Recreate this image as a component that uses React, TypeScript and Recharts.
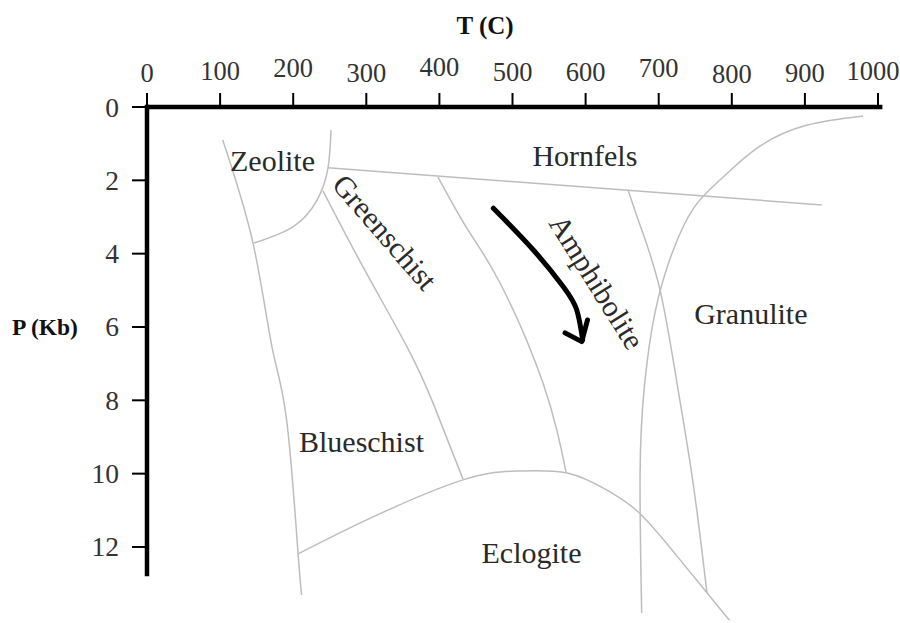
import React from 'react';
import { ComposedChart, Line, Scatter, XAxis, YAxis, ReferenceLine } from 'recharts';

// ---- axis ticks ----
const tempTicks = [0, 100, 200, 300, 400, 500, 600, 700, 800, 900, 1000];
const pressureTicks = [0, 2, 4, 6, 8, 10, 12];

// ---- facies boundaries (T in °C, P in kb) ----
const zeoliteLeftLine = [
  { t: 103.6, p: 0.9 },
  { t: 145, p: 3.71 },
  { t: 171, p: 6.55 },
  { t: 191, p: 8.54 },
  { t: 206.6, p: 12.16 },
  { t: 211.6, p: 13.31 },
];
const zeoliteArc = [
  { t: 251.7, p: 0.63 },
  { t: 247.6, p: 1.66 },
  { t: 232.6, p: 2.54 },
  { t: 199.7, p: 3.27 },
  { t: 146.4, p: 3.71 },
];
const hornfelsLine = [
  { t: 247.6, p: 1.66 },
  { t: 923, p: 2.67 },
];
const greenschistBlueschistLine = [
  { t: 240.8, p: 2.29 },
  { t: 295.5, p: 4.36 },
  { t: 355.7, p: 6.54 },
  { t: 391.2, p: 8.07 },
  { t: 432.3, p: 10.15 },
];
const greenschistAmphiboliteLine = [
  { t: 398.1, p: 1.91 },
  { t: 439, p: 3.35 },
  { t: 482.9, p: 4.8 },
  { t: 541.7, p: 7.53 },
  { t: 573.2, p: 9.95 },
];
const amphiboliteGranuliteLine = [
  { t: 658, p: 2.26 },
  { t: 676.7, p: 3.35 },
  { t: 701.8, p: 4.99 },
  { t: 725, p: 7.53 },
  { t: 747, p: 10.25 },
  { t: 766, p: 13.25 },
];
const meltingArc = [
  { t: 979.5, p: 0.245 },
  { t: 902, p: 0.5 },
  { t: 836, p: 1.1 },
  { t: 786, p: 1.95 },
  { t: 748, p: 2.75 },
  { t: 718, p: 4.0 },
  { t: 695, p: 5.6 },
  { t: 680.5, p: 7.6 },
  { t: 674.5, p: 10.0 },
  { t: 676.7, p: 13.8 },
];
const eclogiteLine = [
  { t: 206.6, p: 12.19 },
  { t: 309.2, p: 11.18 },
  { t: 432.3, p: 10.17 },
  { t: 506.2, p: 9.93 },
  { t: 574.6, p: 9.98 },
  { t: 629.3, p: 10.45 },
  { t: 671.7, p: 11.04 },
  { t: 718.2, p: 12.08 },
  { t: 766, p: 13.25 },
  { t: 797.5, p: 14.02 },
];

// ---- P-T path arrow ----
const arrowPath = [
  { t: 473.8, p: 2.76 },
  { t: 528.5, p: 3.9 },
  { t: 569.5, p: 4.9 },
  { t: 587.8, p: 5.53 },
  { t: 596, p: 6.35 },
];
const arrowHead = [
  { t: 571.9, p: 6.16 },
  { t: 594.7, p: 6.4 },
  { t: 602.5, p: 5.81 },
];

// ---- facies names ----
const faciesLabels = [
  { t: 171.7, p: 1.47, name: 'Zeolite', angle: 0 },
  { t: 599, p: 1.31, name: 'Hornfels', angle: 0 },
  { t: 325.6, p: 3.41, name: 'Greenschist', angle: 49 },
  { t: 615.6, p: 4.77, name: 'Amphibolite', angle: 58 },
  { t: 826, p: 5.62, name: 'Granulite', angle: 0 },
  { t: 293.4, p: 9.11, name: 'Blueschist', angle: 0 },
  { t: 526, p: 12.16, name: 'Eclogite', angle: 0 },
];

const SERIF = "'Liberation Serif', 'Times New Roman', serif";
const BOUNDARY = '#bdbdbd';
const tickShiftY: Record<number, number> = { 0: 1.5, 100: 0, 200: -3.5, 300: 1.5, 400: -4, 500: 1, 600: 1, 700: -3.5, 800: 3, 900: 1.5, 1000: 0 };
const tickShiftX: Record<number, number> = { 1000: -5 };

const XTick = (props: any) => {
  const { x, y, payload } = props;
  return (
    <text
      x={x + (tickShiftX[payload.value] || 0)}
      y={y + (tickShiftY[payload.value] || 0)}
      textAnchor="middle"
      fontFamily={SERIF}
      fontSize={26.5}
      fill="#333"
    >
      {payload.value}
    </text>
  );
};

const YTick = (props: any) => {
  const { x, y, payload } = props;
  return (
    <text x={x} y={y} textAnchor="end" dominantBaseline="central" fontFamily={SERIF} fontSize={27.5} fill="#333">
      {payload.value}
    </text>
  );
};

const LabelShape = (props: any) => {
  const { cx, cy, payload } = props;
  return (
    <text
      x={cx}
      y={cy}
      textAnchor="middle"
      dominantBaseline="central"
      fontFamily={SERIF}
      fontSize={30}
      fill="#2a2a2a"
      transform={payload.angle ? `rotate(${payload.angle} ${cx} ${cy})` : undefined}
    >
      {payload.name}
    </text>
  );
};

const boundaries: { data: { t: number; p: number }[]; type: any }[] = [
  { data: zeoliteLeftLine, type: 'natural' },
  { data: zeoliteArc, type: 'natural' },
  { data: hornfelsLine, type: 'linear' },
  { data: greenschistBlueschistLine, type: 'natural' },
  { data: greenschistAmphiboliteLine, type: 'natural' },
  { data: amphiboliteGranuliteLine, type: 'natural' },
  { data: meltingArc, type: 'natural' },
  { data: eclogiteLine, type: 'natural' },
];

export default function App() {
  return (
    <div style={{ position: 'absolute', left: 0, top: 0, width: 900, height: 623, background: '#fff' }}>
      <ComposedChart width={900} height={623} margin={{ top: 67, right: 17.6, bottom: 2.7, left: 87 }}>
        <XAxis
          dataKey="t"
          type="number"
          orientation="top"
          domain={[0, 1006]}
          allowDataOverflow
          ticks={tempTicks}
          height={40}
          tickSize={14}
          tickMargin={13}
          axisLine={{ stroke: '#000', strokeWidth: 4.5 }}
          tickLine={{ stroke: '#000', strokeWidth: 2 }}
          tick={<XTick />}
          label={{
            value: 'T (C)',
            content: (p: any) => (
              <text x={p.viewBox.x + 338} y={p.viewBox.y - 33} textAnchor="middle" fontFamily={SERIF} fontWeight="bold" fontSize={25} fill="#111">
                T (C)
              </text>
            ),
          }}
        />
        <YAxis
          dataKey="p"
          type="number"
          reversed
          domain={[0, 14]}
          allowDataOverflow
          ticks={pressureTicks}
          width={60}
          tickSize={15}
          tickMargin={13}
          axisLine={false}
          tickLine={{ stroke: '#000', strokeWidth: 2 }}
          tick={<YTick />}
          label={{
            value: 'P (Kb)',
            content: (p: any) => (
              <text x={p.viewBox.x - 75} y={p.viewBox.y + 228} textAnchor="start" fontFamily={SERIF} fontWeight="bold" fontSize={23.5} fill="#111">
                P (Kb)
              </text>
            ),
          }}
        />
        <ReferenceLine
          segment={[{ x: 0, y: -0.06 }, { x: 0, y: 12.8 }]}
          stroke="#000"
          strokeWidth={4.5}
          ifOverflow="visible"
        />
        {boundaries.map((b, i) => (
          <Line
            key={i}
            data={b.data}
            dataKey="p"
            type={b.type}
            stroke={BOUNDARY}
            strokeWidth={1.5}
            dot={false}
            activeDot={false}
            isAnimationActive={false}
          />
        ))}
        <Line data={arrowPath} dataKey="p" type="natural" stroke="#000" strokeWidth={5} strokeLinecap="round" dot={false} activeDot={false} isAnimationActive={false} />
        <Line data={arrowHead} dataKey="p" type="linear" stroke="#000" strokeWidth={5} strokeLinecap="round" strokeLinejoin="round" dot={false} activeDot={false} isAnimationActive={false} />
        <Scatter data={faciesLabels} dataKey="p" shape={<LabelShape />} isAnimationActive={false} />
      </ComposedChart>
    </div>
  );
}
